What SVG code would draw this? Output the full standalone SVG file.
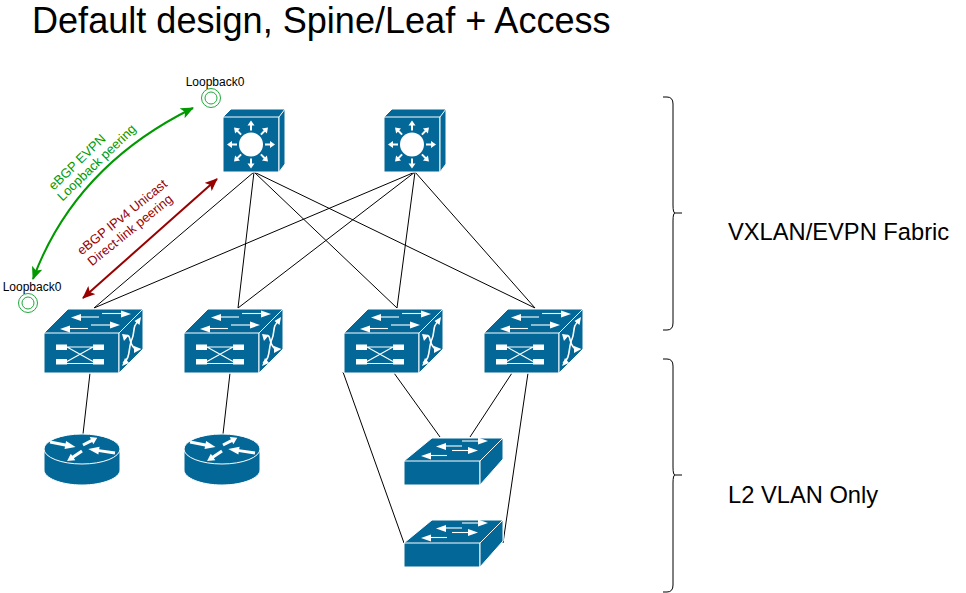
<svg xmlns="http://www.w3.org/2000/svg" xmlns:xlink="http://www.w3.org/1999/xlink" width="966" height="593" viewBox="0 0 966 593">
<style>
text{font-family:"Liberation Sans",Arial,sans-serif;fill:#000}
.blue{fill:#036897;stroke:#fff;stroke-width:1;stroke-linejoin:round}
.wf{fill:#fff}
.ws{stroke:#fff;fill:none;stroke-width:1.1}
.w2{stroke:#fff;fill:none;stroke-width:1.6}
.link{stroke:#000;stroke-width:1;fill:none}
.brace{stroke:#000;stroke-width:1;fill:none}
.lb{fill:none;stroke:#1fa83c;stroke-width:1}
.small{font-size:12px;text-anchor:middle}
.big{font-size:23.700px}
.g{fill:#009900;font-size:13px;text-anchor:middle}
.r{fill:#990000;font-size:13px;text-anchor:middle}
</style>
<defs>
<marker id="ag" viewBox="0 0 13 11" refX="12" refY="5.500" markerWidth="13" markerHeight="11" markerUnits="userSpaceOnUse" orient="auto-start-reverse"><path d="M0 0L13 5.500L0 11L3 5.500Z" fill="#009900"/></marker>
<marker id="ar" viewBox="0 0 13 11" refX="12" refY="5.500" markerWidth="13" markerHeight="11" markerUnits="userSpaceOnUse" orient="auto-start-reverse"><path d="M0 0L13 5.500L0 11L3 5.500Z" fill="#990000"/></marker>
<path id="a1" class="wf" d="M-14 -1H-19V-3.500L-24 0L-19 3.500V1H-14Z"/>
<path id="fat" class="wf" d="M0 -1.500H6V-4L10 0L6 4V1.500H0Z"/>
<g id="spine">
<path class="blue" d="M0 8L8 0H62V55L56 63H0Z"/>
<path class="blue" d="M0 8H56V63H0Z"/>
<path class="blue" d="M56 8L62 0V55L56 63Z"/>
<circle class="wf" cx="28" cy="35.500" r="12"/>
<use xlink:href="#a1" transform="translate(28,35.500)"/>
<use xlink:href="#a1" transform="translate(28,35.500) rotate(45)"/>
<use xlink:href="#a1" transform="translate(28,35.500) rotate(90)"/>
<use xlink:href="#a1" transform="translate(28,35.500) rotate(135)"/>
<use xlink:href="#a1" transform="translate(28,35.500) rotate(180)"/>
<use xlink:href="#a1" transform="translate(28,35.500) rotate(225)"/>
<use xlink:href="#a1" transform="translate(28,35.500) rotate(270)"/>
<use xlink:href="#a1" transform="translate(28,35.500) rotate(315)"/>
</g>
<g id="leaf">
<path class="blue" d="M0 24L24 0H99V40L75 64H0Z"/>
<path class="blue" d="M0 24H75V64H0Z"/>
<path class="blue" d="M75 24L99 0V40L75 64Z"/>
<path class="ws" d="M23 38H49M23 38L49 52.500M23 52.500L49 38M23 54.500H49" stroke-width="0.8"/>
<rect class="wf" x="12" y="35.500" width="11" height="5.500"/>
<rect class="wf" x="49" y="35.500" width="11" height="5.500"/>
<rect class="wf" x="12" y="50" width="11" height="5.500"/>
<rect class="wf" x="49" y="50" width="11" height="5.500"/>
<path class="ws" d="M36 8H55"/><path class="wf" d="M27 8.500L37 5V12Z"/>
<path class="ws" d="M58 4.500H78"/><path class="wf" d="M87 5L77 1.500V8.500Z"/>
<path class="ws" d="M25 19.500H44"/><path class="wf" d="M16 20L26 16.500V23.500Z"/>
<path class="ws" d="M47 16H67"/><path class="wf" d="M76 16L66 12.500V19.500Z"/>
<path class="w2" d="M79 54C87 50 84 38 88 30C91 24 88 16 95 12"/>
<path class="wf" d="M97 8L95.500 16L90.500 12Z"/>
<path class="wf" d="M78 57L81 49L85 54Z"/>
<path class="w2" d="M80 28C87 23 85 32 88 36C90 39 91 41 94 40"/>
<path class="wf" d="M78 25L85 26L80 32Z"/>
<path class="wf" d="M97.500 40L90 44L90 37Z"/>
</g>
<g id="router">
<path class="blue" d="M0 15V36C0 44 17 51 38 51C59 51 76 44 76 36V15Z"/>
<ellipse class="blue" cx="38" cy="15" rx="38" ry="15"/>
<use xlink:href="#fat" transform="translate(6,8) rotate(11) scale(2.600,1)"/>
<use xlink:href="#fat" transform="translate(39,11) rotate(-27) scale(1.600,1)"/>
<use xlink:href="#fat" transform="translate(71,19) rotate(188.400) scale(2.700,1)"/>
<use xlink:href="#fat" transform="translate(38,17) rotate(146) scale(1.800,1)"/>
</g>
<g id="switch">
<path class="blue" d="M0 24L28 1H99V22L76 48H0Z"/>
<path class="blue" d="M0 24H76V48H0Z"/>
<path class="blue" d="M76 24L99 1V22L76 48Z"/>
<path class="ws" d="M41 9H58"/><path class="wf" d="M32 9.500L42 6V13Z"/>
<path class="ws" d="M58 4H75"/><path class="wf" d="M84 4L74 0.500V7.500Z"/>
<path class="ws" d="M48 13.500H65"/><path class="wf" d="M74 13.500L64 10V17Z"/>
<path class="ws" d="M26 18.500H43"/><path class="wf" d="M17 19L27 15.500V22.500Z"/>
</g>
</defs>

<text x="32" y="33" font-size="36.100">Default design, Spine/Leaf + Access</text>

<g id="connectors">
<path class="link" d="M254 172L94 308M254 172L238 308M254 172L397 308M254 172L535 308"/>
<path class="link" d="M415 172L94 308M415 172L238 308M415 172L397 308M415 172L535 308"/>
<path class="link" d="M90 373L83 434M230 373L223 434"/>
<path class="link" d="M394 373L440 437M343 372L404 543M512 373L470 437M528 373L503 543"/>
<path d="M193 108Q75 166 33 279" fill="none" stroke="#009900" stroke-width="2" marker-start="url(#ag)" marker-end="url(#ag)"/>
<path d="M217 179L83 298" fill="none" stroke="#990000" stroke-width="2" marker-start="url(#ar)" marker-end="url(#ar)"/>
</g>

<g id="spine1"><use xlink:href="#spine" transform="translate(223,109)"/></g>
<g id="spine2"><use xlink:href="#spine" transform="translate(384,109)"/></g>
<g id="leaf1"><use xlink:href="#leaf" transform="translate(44,309)"/></g>
<g id="leaf2"><use xlink:href="#leaf" transform="translate(184,309)"/></g>
<g id="leaf3"><use xlink:href="#leaf" transform="translate(344,309)"/></g>
<g id="leaf4"><use xlink:href="#leaf" transform="translate(484,309)"/></g>
<g id="router1"><use xlink:href="#router" transform="translate(44,434)"/></g>
<g id="router2"><use xlink:href="#router" transform="translate(184,434)"/></g>
<g id="switch1"><use xlink:href="#switch" transform="translate(404,437)"/></g>
<g id="switch2"><use xlink:href="#switch" transform="translate(404,519)"/></g>

<g id="loopback-top"><circle class="lb" cx="211" cy="98" r="9.500"/><circle class="lb" cx="211" cy="98" r="6"/><text class="small" x="215" y="86">Loopback0</text></g>
<g id="loopback-bottom"><circle class="lb" cx="28" cy="303" r="9.500"/><circle class="lb" cx="28" cy="303" r="6"/><text class="small" x="32" y="291">Loopback0</text></g>

<g id="label-evpn">
<text class="g" x="77" y="166.500" transform="rotate(-44 77 162)">eBGP EVPN</text>
<text class="g" x="96.500" y="167" transform="rotate(-44 96.500 162.500)">Loopback peering</text>
</g>
<g id="label-ipv4">
<text class="r" x="122" y="221.500" transform="rotate(-39 122 217)">eBGP IPv4 Unicast</text>
<text class="r" x="130" y="234.500" transform="rotate(-39 130 230)">Direct-link peering</text>
</g>

<g id="brace-fabric"><path class="brace" d="M663 97H667Q673 97 673 104V205Q673 213 675 213H682M675 213Q673 213 673 221V323Q673 330 667 330H663"/></g>
<g id="brace-l2"><path class="brace" d="M663 359H667Q673 359 673 366V467Q673 475 675 475H682M675 475Q673 475 673 483V585Q673 592 667 592H663"/></g>
<text class="big" x="728" y="240">VXLAN/EVPN Fabric</text>
<text class="big" x="728" y="503">L2 VLAN Only</text>
</svg>
